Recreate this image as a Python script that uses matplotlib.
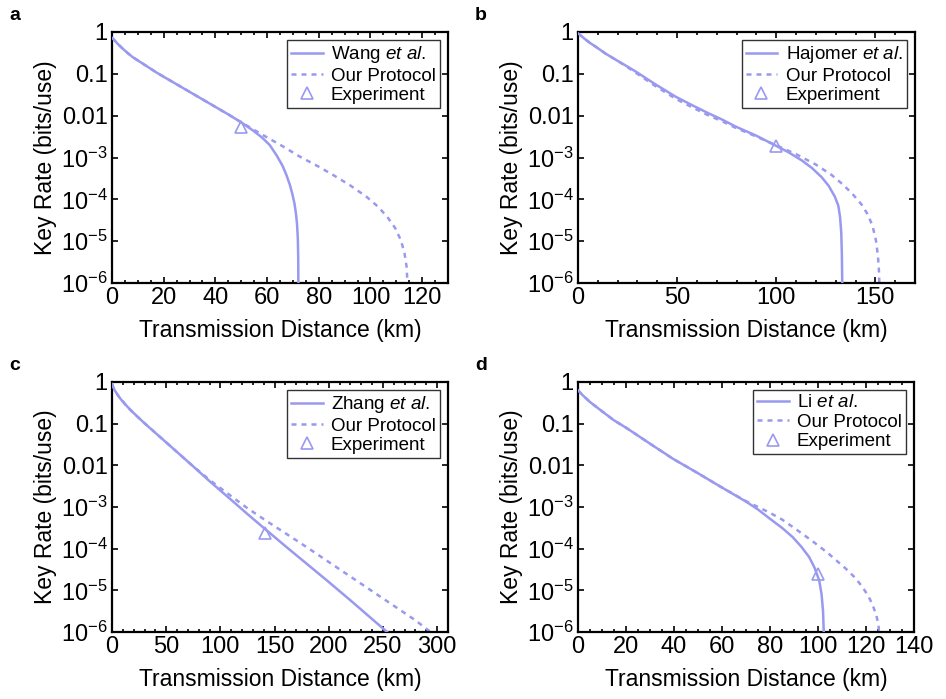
import numpy as np
import matplotlib
matplotlib.use("Agg")
import matplotlib.pyplot as plt
from matplotlib.ticker import FixedLocator, LogLocator, MultipleLocator, NullFormatter

plt.rcParams["font.family"] = ["Liberation Sans", "DejaVu Sans"]
plt.rcParams["mathtext.fontset"] = "custom"
plt.rcParams["mathtext.rm"] = "Liberation Sans"
plt.rcParams["mathtext.it"] = "Liberation Sans:italic"

# panel a  (key rate given as log10)
a_ref_x = [0, 1, 2, 4, 6, 8, 11, 14, 17, 20, 25, 30, 35, 40, 45, 50, 54, 58, 61, 63.7, 66, 67.5,
           68.8, 69.8, 70.6, 71.2, 71.6, 71.9, 72.05, 72.1]
a_ref_log = [-0.14, -0.2, -0.27, -0.39, -0.5, -0.6, -0.72, -0.84, -0.96, -1.07, -1.25, -1.43, -1.61,
             -1.79, -1.97, -2.16, -2.33, -2.52, -2.7, -2.95, -3.2, -3.42, -3.65, -3.88, -4.1, -4.35,
             -4.6, -4.95, -5.4, -6.0]
a_our_x = [0, 1, 2, 4, 6, 8, 11, 14, 17, 20, 25, 30, 35, 40, 45, 50, 55, 60, 66, 72.7, 80, 85.6, 92,
           98.5, 103, 106.5, 109.5, 111.8, 113.2, 114, 114.3]
a_our_log = [-0.14, -0.2, -0.27, -0.39, -0.5, -0.6, -0.72, -0.84, -0.96, -1.07, -1.25, -1.43, -1.61,
             -1.79, -1.97, -2.16, -2.34, -2.52, -2.73, -2.98, -3.22, -3.42, -3.66, -3.94, -4.18,
             -4.42, -4.68, -4.98, -5.3, -5.62, -6.0]
a_exp = (50, 0.0054)

# panel b
b_ref_x = [0, 1, 3, 6, 9.2, 14, 19.3, 24, 29.3, 39, 49.4, 58, 66.1, 73, 79.5, 90, 99.5, 106, 112.9,
           118, 122.9, 126.5, 129.6, 131.3, 132.2, 132.8, 133.1, 133.3]
b_ref_log = [-0.03, -0.07, -0.15, -0.26, -0.36, -0.52, -0.67, -0.8, -0.95, -1.25, -1.55, -1.76,
             -1.95, -2.1, -2.26, -2.48, -2.71, -2.87, -3.07, -3.25, -3.47, -3.68, -3.94, -4.15,
             -4.42, -4.8, -5.3, -6.0]
b_our_x = [0, 1, 3, 6, 9.2, 14, 19.3, 24, 29.3, 39, 49.4, 58, 66.1, 73, 79.5, 90, 100, 110, 120, 128,
           134, 139, 143, 146, 148.5, 150.3, 151.3, 151.8, 152]
b_our_log = [-0.03, -0.07, -0.15, -0.26, -0.36, -0.52, -0.67, -0.81, -0.98, -1.29, -1.6, -1.81,
             -2.0, -2.14, -2.29, -2.5, -2.71, -2.92, -3.17, -3.42, -3.66, -3.9, -4.12, -4.35, -4.62,
             -4.98, -5.35, -5.7, -6.0]
b_exp = (100, 0.0019)

# panel c
c_ref_x = [0, 1, 2.5, 5, 8, 12, 17, 23, 30, 40, 50, 60, 73.4, 90, 110, 125, 141.3, 160, 180, 200,
           220, 240, 253.8]
c_ref_log = [-0.05, -0.12, -0.2, -0.3, -0.41, -0.53, -0.67, -0.82, -0.99, -1.22, -1.45, -1.68,
             -1.99, -2.38, -2.83, -3.17, -3.53, -3.94, -4.37, -4.8, -5.24, -5.69, -6.0]
c_our_x = [0, 1, 2.5, 5, 8, 12, 17, 23, 30, 40, 50, 60, 73.4, 90, 110, 125, 142.8, 160, 180, 200,
           220, 240, 260, 280, 293.9]
c_our_log = [-0.05, -0.12, -0.2, -0.3, -0.41, -0.53, -0.67, -0.82, -0.99, -1.22, -1.45, -1.68,
             -1.99, -2.35, -2.74, -3.03, -3.34, -3.63, -3.97, -4.32, -4.67, -5.02, -5.37, -5.72,
             -6.0]
c_exp = (141, 0.00024)

# panel d
d_ref_x = [0, 2, 5, 10.4, 15, 20.1, 30, 39.5, 50, 59.6, 70, 75, 79.7, 85, 89.4, 93, 96.3, 98.5,
           100.5, 101.5, 102.1, 102.4]
d_ref_log = [-0.2, -0.32, -0.48, -0.72, -0.92, -1.1, -1.48, -1.84, -2.19, -2.52, -2.87, -3.06,
             -3.27, -3.5, -3.72, -3.95, -4.2, -4.45, -4.76, -5.1, -5.5, -6.0]
d_our_x = [0, 2, 5, 10.4, 15, 20.1, 30, 39.5, 50, 59.6, 70, 75, 80, 85, 90, 97.7, 104, 111.6, 115.5,
           118.5, 121, 122.7, 124.3, 125.2, 125.4]
d_our_log = [-0.2, -0.32, -0.48, -0.72, -0.92, -1.1, -1.48, -1.84, -2.19, -2.52, -2.86, -3.0,
             -3.14, -3.3, -3.5, -3.82, -4.1, -4.48, -4.7, -4.92, -5.14, -5.34, -5.6, -5.82, -6.0]
d_exp = (100, 2.5e-5)

ref_names = ["Wang", "Hajomer", "Zhang", "Li"]
letters = ["a", "b", "c", "d"]
xlims = [130, 170, 310, 140]
xmajor = [20, 50, 50, 20]
xminor = [5, 10, 10, 5]
ytick_labels = ["$\\mathregular{10^{-6}}$", "$\\mathregular{10^{-5}}$", "$\\mathregular{10^{-4}}$",
                "$\\mathregular{10^{-3}}$", "0.01", "0.1", "1"]

color = "#9999f0"
W, H = 946, 699
# axes boxes in pixels: left, top, right, bottom
boxes = [(112, 32, 448, 283), (578, 32, 915, 283), (112, 382, 448, 632), (578, 382, 914, 632)]

panels = [
    (a_ref_x, a_ref_log, a_our_x, a_our_log, a_exp),
    (b_ref_x, b_ref_log, b_our_x, b_our_log, b_exp),
    (c_ref_x, c_ref_log, c_our_x, c_our_log, c_exp),
    (d_ref_x, d_ref_log, d_our_x, d_our_log, d_exp),
]

fig = plt.figure(figsize=(W / 100, H / 100), dpi=100)

for i, (rx, rl, ox, ol, ex) in enumerate(panels):
    l, t, r, b = boxes[i]
    ax = fig.add_axes([l / W, 1 - b / H, (r - l) / W, (b - t) / H])
    ax.plot(ox, 10 ** np.array(ol), color=color, lw=1.8, dashes=(2, 2), label="Our Protocol", zorder=2)
    ax.plot(rx, 10 ** np.array(rl), color=color, lw=1.8, label=ref_names[i] + " $\\it{et\\ al.}$", zorder=3)
    ax.plot([ex[0]], [ex[1]], ls="none", marker="^", ms=9, mfc="none", mec=color, mew=1.2,
            label="Experiment", zorder=4)

    ax.set_yscale("log")
    ax.set_ylim(1e-6, 1)
    ax.set_xlim(0, xlims[i])
    ax.yaxis.set_major_locator(FixedLocator(10.0 ** np.arange(-6, 1)))
    ax.set_yticklabels(ytick_labels)
    ax.yaxis.set_minor_locator(LogLocator(base=10, subs=np.arange(2, 10)))
    ax.yaxis.set_minor_formatter(NullFormatter())
    ax.xaxis.set_major_locator(MultipleLocator(xmajor[i]))
    ax.xaxis.set_minor_locator(MultipleLocator(xminor[i]))

    ax.tick_params(which="both", direction="in", top=True, right=True, labelsize=17, width=1.2)
    ax.tick_params(which="major", length=4.5, pad=3)
    ax.tick_params(which="minor", length=2.5)
    for s in ax.spines.values():
        s.set_linewidth(1.6)

    ax.set_xlabel("Transmission Distance (km)", fontsize=16.5, labelpad=7)
    ax.set_ylabel("Key Rate (bits/use)", fontsize=16.5, labelpad=3)

    handles, labels = ax.get_legend_handles_labels()
    order = [1, 0, 2]
    leg = ax.legend([handles[k] for k in order], [labels[k] for k in order], loc="upper right",
                    fontsize=13.5, fancybox=False, framealpha=1, edgecolor="#333333",
                    borderaxespad=0.45, handlelength=1.7, handletextpad=0.45, labelspacing=0.12,
                    borderpad=0.2)
    leg.get_frame().set_linewidth(1.0)

    fig.text((l - 97) / W, 1 - (t - 17) / H, letters[i], fontsize=14, fontweight="bold",
             va="center", ha="center")

fig.savefig("out.png", dpi=100)
